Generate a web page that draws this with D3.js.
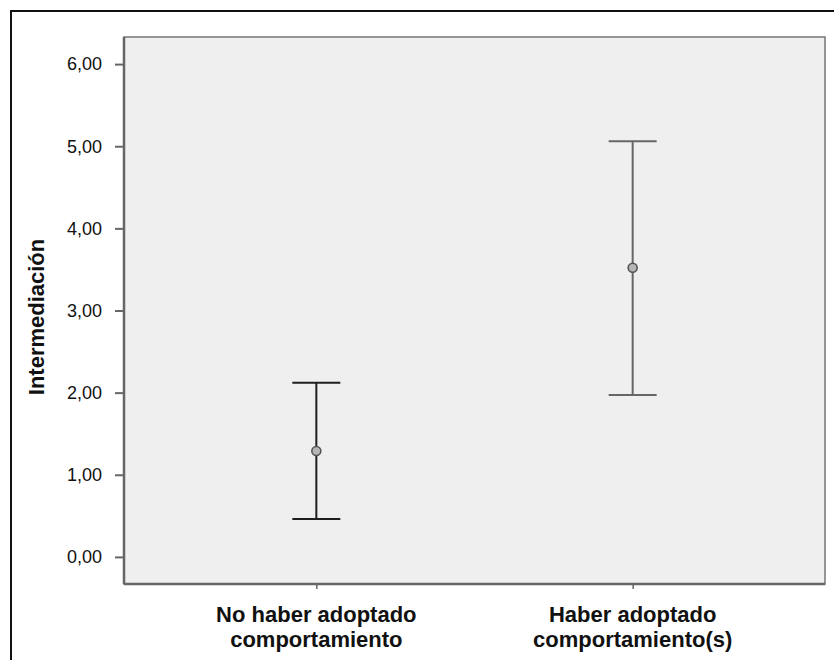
<!DOCTYPE html>
<html>
<head>
<meta charset="utf-8">
<script src="https://cdn.jsdelivr.net/npm/d3@7"></script>
<style>
  body { margin: 0; background: #fff; }
  svg { display: block; font-family: "Liberation Sans", Arial, sans-serif; }
</style>
</head>
<body>
<div id="chart"></div>
<script>
// values
var categories = ["No haber adoptado comportamiento", "Haber adoptado comportamiento(s)"],
    catLines = [["No haber adoptado", "comportamiento"], ["Haber adoptado", "comportamiento(s)"]],
    means = [1.29, 3.52],
    lower = [0.46, 1.97],
    upper = [2.12, 5.06],
    barColors = ["#1e1e1e", "#666666"],
    yTickValues = [0, 1, 2, 3, 4, 5, 6],
    yLabel = "Intermediación";

var W = 834, H = 660,
    margin = { top: 37, right: 9, bottom: 76, left: 124 },
    width = W - margin.left - margin.right,
    height = H - margin.top - margin.bottom;

var data = categories.map(function(c, i) {
  return { cat: c, lines: catLines[i], mean: means[i], lo: lower[i], hi: upper[i], color: barColors[i] };
});

var svg = d3.select("#chart").append("svg")
    .attr("width", W)
    .attr("height", H);

// outer frame (runs off the right/bottom edge like the screenshot)
svg.append("rect")
    .attr("x", 11).attr("y", 11)
    .attr("width", W + 20).attr("height", H + 20)
    .attr("fill", "none")
    .attr("stroke", "#111")
    .attr("stroke-width", 2);

var g = svg.append("g")
    .attr("transform", "translate(" + margin.left + "," + margin.top + ")");

var x = d3.scalePoint()
    .domain(categories)
    .range([0, width])
    .padding(0.608);

var y = d3.scaleLinear()
    .domain([-0.33, 6.33])
    .range([height, 0]);

// plot background
g.append("rect")
    .attr("width", width)
    .attr("height", height)
    .attr("fill", "#efefef")
    .attr("stroke", "#767676")
    .attr("stroke-width", 1.5);

// y axis
var yAxis = g.append("g")
    .call(d3.axisLeft(y)
      .tickValues(yTickValues)
      .tickSize(9)
      .tickPadding(13)
      .tickFormat(function(d) { return d3.format(".2f")(d).replace(".", ","); }));
yAxis.select(".domain").remove();
yAxis.selectAll(".tick line").attr("stroke", "#666").attr("stroke-width", 2);
yAxis.selectAll(".tick text")
    .attr("font-size", 18)
    .attr("fill", "#111")
    .attr("font-family", "Liberation Sans, Arial, sans-serif");

// x axis
var xAxis = g.append("g")
    .attr("transform", "translate(0," + height + ")")
    .call(d3.axisBottom(x).tickSize(5).tickFormat(""));
xAxis.select(".domain").remove();
xAxis.selectAll(".tick line").attr("stroke", "#666").attr("stroke-width", 1.5);

// darker left/bottom axis lines
g.append("line")
    .attr("x1", 0).attr("x2", 0)
    .attr("y1", 0).attr("y2", height)
    .attr("stroke", "#666").attr("stroke-width", 2.5);
g.append("line")
    .attr("x1", 0).attr("x2", width)
    .attr("y1", height).attr("y2", height)
    .attr("stroke", "#666").attr("stroke-width", 2.5);

// category labels
var labels = g.append("g").selectAll("text")
    .data(data)
    .enter().append("text")
    .attr("text-anchor", "middle")
    .attr("font-size", 22)
    .attr("font-weight", "bold")
    .attr("fill", "#111")
    .attr("transform", function(d) { return "translate(" + x(d.cat) + "," + (height + 38) + ")"; });
labels.selectAll("tspan")
    .data(function(d) { return d.lines; })
    .enter().append("tspan")
    .attr("x", 0)
    .attr("dy", function(d, i) { return i === 0 ? 0 : 25; })
    .text(function(d) { return d; });

// y label
g.append("text")
    .attr("transform", "translate(" + (36 - margin.left) + "," + (317 - margin.top) + ") rotate(-90)")
    .attr("text-anchor", "middle")
    .attr("dominant-baseline", "central")
    .attr("font-size", 22)
    .attr("font-weight", "bold")
    .attr("fill", "#111")
    .text(yLabel);

// error bars
var capHalf = 24;
var bars = g.append("g").selectAll("g")
    .data(data)
    .enter().append("g");

bars.append("line")
    .attr("x1", function(d) { return x(d.cat); })
    .attr("x2", function(d) { return x(d.cat); })
    .attr("y1", function(d) { return y(d.lo); })
    .attr("y2", function(d) { return y(d.hi); })
    .attr("stroke", function(d) { return d.color; })
    .attr("stroke-width", 2);

bars.selectAll(".cap")
    .data(function(d) { return [d.lo, d.hi].map(function(v) { return { cat: d.cat, v: v, color: d.color }; }); })
    .enter().append("line")
    .attr("class", "cap")
    .attr("x1", function(d) { return x(d.cat) - capHalf; })
    .attr("x2", function(d) { return x(d.cat) + capHalf; })
    .attr("y1", function(d) { return y(d.v); })
    .attr("y2", function(d) { return y(d.v); })
    .attr("stroke", function(d) { return d.color; })
    .attr("stroke-width", 2);

bars.append("circle")
    .attr("cx", function(d) { return x(d.cat); })
    .attr("cy", function(d) { return y(d.mean); })
    .attr("r", 4.5)
    .attr("fill", "#b5b5b5")
    .attr("stroke", "#555")
    .attr("stroke-width", 1.6);
</script>
</body>
</html>
